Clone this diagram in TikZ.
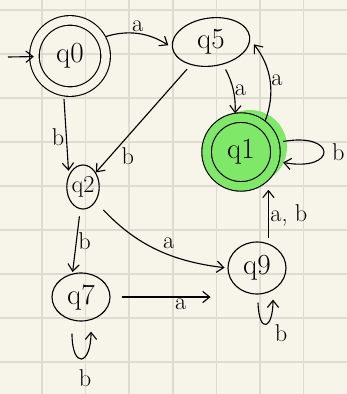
\documentclass[tikz,border=0pt]{standalone}
\usepackage{tikz}
\usetikzlibrary{arrows.meta,positioning,calc,shapes.geometric}

\definecolor{paper}{RGB}{247,245,234}
\definecolor{gridline}{RGB}{222,220,208}
\definecolor{hilite}{RGB}{128,232,104}

\begin{document}
\begin{tikzpicture}[
  x=0.025cm, y=-0.025cm,
  st/.style={draw, ellipse, thick, inner sep=0pt, font=\huge},
  acc/.style={draw, circle, thick, double, double distance=6pt, inner sep=0pt, font=\huge},
  arr/.style={-{Straight Barb[length=5pt,width=8pt]}, thick},
  lbl/.style={inner sep=1pt, font=\LARGE}
]
% paper and grid
\fill[paper] (0,0) rectangle (347,394);
\useasboundingbox (0,0) rectangle (347,394);
\foreach \gx in {42,85.6,129.2,172.8,216.4,260,303.6}
  \draw[gridline, line width=1.2pt] (\gx,0) -- (\gx,394);
\foreach \gy in {10,54,98,142,186,230,274,318,362}
  \draw[gridline, line width=1.2pt] (0,\gy) -- (347,\gy);

% highlight behind q1
\fill[hilite] (250,147) circle[radius=37];

% states
\node[acc, double=paper, minimum size=1.78cm] (q0) at (70,56) {q0};
\node[st, minimum width=1.95cm, minimum height=1.2cm, rotate=8] (q5) at (211,42) {\rotatebox{-8}{q5}};
\node[acc, double=hilite, fill=hilite, minimum size=1.72cm] (q1) at (241,152) {q1};
\node[st, font=\LARGE, minimum width=0.8cm, minimum height=1.1cm] (q2) at (83,187) {q2};
\node[st, minimum width=1.45cm, minimum height=1.2cm] (q7) at (81,297) {q7};
\node[st, minimum width=1.45cm, minimum height=1.3cm] (q9) at (257,268) {q9};
\coordinate (start) at (8,57);

% transitions
\draw[arr] (start) -- (q0);
\draw[arr, shorten <=3pt, shorten >=3pt] (q0.30) to[bend left=25] node[lbl, above] {a} (q5.west);
\draw[arr, shorten >=3pt] ($(q0.south)+(-6,7)$) -- node[lbl, left] {b} (q2.140);
\draw[arr, shorten <=4pt] (q5) -- node[lbl, below right, pos=0.75] {b} (q2);
\draw[arr, shorten <=4pt, shorten >=3pt] (q5.-70) to[bend left=15] node[lbl, right] {a} (q1.100);
\draw[arr, shorten <=3pt, shorten >=4pt] (q1.50) to[bend right=30] node[lbl, right] {a} (q5.-5);
\draw[arr, shorten <=6pt, shorten >=6pt] (q1.15) to[out=10, in=-10, looseness=9] node[lbl, right, xshift=6pt] {b} (q1.-15);
\draw[arr, shorten <=5pt, shorten >=1pt] (q2) -- node[lbl, right] {b} (q7.110);
\draw[arr, shorten <=8pt, shorten >=2pt] (q2) to[bend right=20] node[lbl, above right, pos=0.55] {a} (q9.west);
\draw[arr, shorten <=8pt, shorten >=12pt] (q7) -- node[lbl, below, pos=0.6] {a} (q9.west |- q7);
\draw[arr, shorten <=4pt, shorten >=2pt] (q9.65) -- node[lbl, right] {a, b} (q9.65 |- q1.south);
\draw[arr] ($(q9.south)+(1,8)$) .. controls +(1,32) and +(0,30) .. ($(q9.south)+(16,5)$);
\node[lbl] (b9) at (281,333) {b};
\draw[arr] ($(q7.south)+(-9,12)$) .. controls +(0,36) and +(0,34) .. ($(q7.south)+(10,10)$);
\node[lbl] (b7) at (85,378) {b};
\end{tikzpicture}
\end{document}
